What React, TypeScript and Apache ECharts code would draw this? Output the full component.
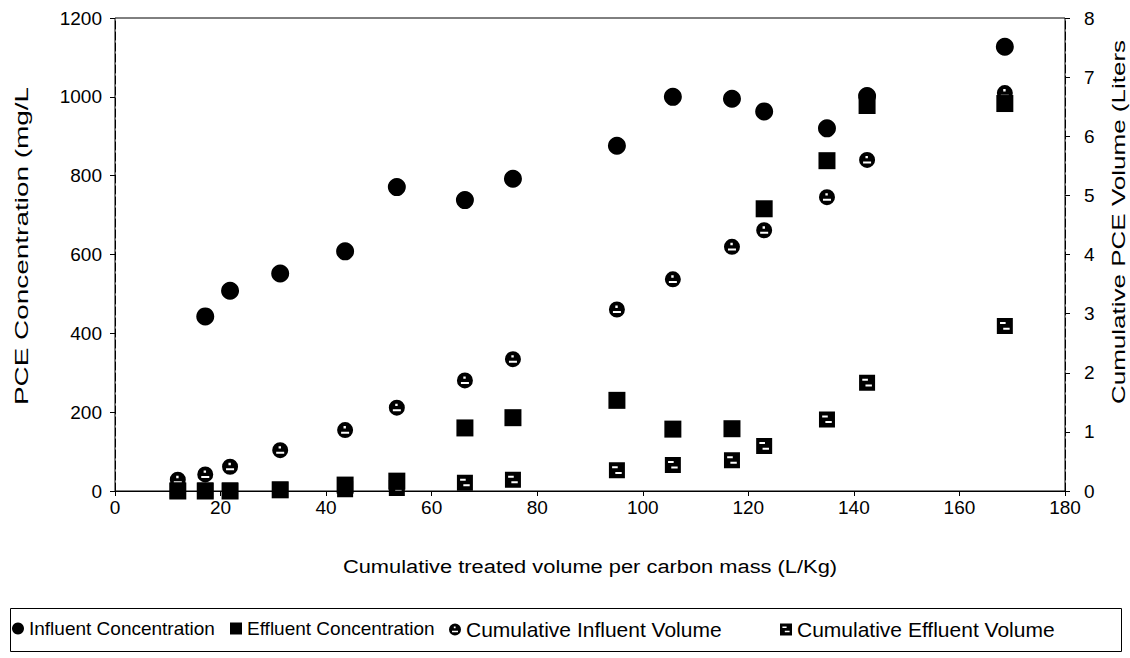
import React, { useEffect, useRef } from "react";
import * as echarts from "echarts";

const xValues = [11.9, 17.1, 21.8, 31.3, 43.6, 53.4, 66.3, 75.4, 95.1, 105.7, 116.9, 123.0, 134.9, 142.5, 168.6];
const influentConc = [null, 443, 508, 552, 608, 771, 738, 792, 876, 1000, 995, 963, 920, 1002, 1127];
const effluentConc = [0, 0, 0, 3, 15, 25, 160, 186, 230, 157, 158, 716, 838, 978, 983];
const cumInfluentVol = [0.19, 0.28, 0.41, 0.69, 1.03, 1.41, 1.87, 2.23, 3.07, 3.58, 4.13, 4.41, 4.97, 5.6, 6.73];
const cumEffluentVol = [0.01, 0.01, 0.01, 0.02, 0.03, 0.05, 0.14, 0.19, 0.35, 0.44, 0.52, 0.76, 1.21, 1.83, 2.79];

const seriesNames = [
  "Influent Concentration",
  "Effluent Concentration",
  "Cumulative Influent Volume",
  "Cumulative Effluent Volume",
];
const legendLefts = [12, 230, 449, 780];
const legendFontSizes = [19, 19, 21, 21];

const xTitle = "Cumulative treated volume per carbon mass (L/Kg)";
const yLeftTitle = "PCE Concentration (mg/L";
const yRightTitle = "Cumulative PCE Volume (Liters";

const FONT = "'Liberation Sans', Arial, sans-serif";
const circleHole =
  "path://M10,0 A10,10 0 1,1 10,20 A10,10 0 1,1 10,0 Z M5,12 L5,14.5 L15,14.5 L15,12 Z M8,5 L8,8 L11,8 L11,5 Z";
const squareHole =
  "path://M0,0 L20,0 L20,20 L0,20 Z M4,5 L4,7.5 L11,7.5 L11,5 Z M8,12 L8,14.5 L16,14.5 L16,12 Z";

const pairs = (ys: (number | null)[]) =>
  xValues.map((x, i) => [x, ys[i]]).filter((p) => p[1] !== null);

export default function App() {
  const ref = useRef<HTMLDivElement>(null);
  useEffect(() => {
    if (!ref.current) return;
    const chart = echarts.init(ref.current, undefined, { renderer: "svg" });
    const axisText = { color: "#000", fontFamily: FONT, fontSize: 19 };
    const titleStyle = (text: string) => ({
      text,
      fill: "#000",
      fontFamily: FONT,
      fontSize: 19,
      align: "center",
      verticalAlign: "middle",
    });
    chart.setOption({
      animation: false,
      backgroundColor: "#fff",
      grid: {
        left: 115,
        right: 65,
        top: 18,
        bottom: 167,
        show: true,
        borderColor: "#000",
        borderWidth: 1,
      },
      legend: seriesNames.map((name, i) => ({
        data: [name],
        left: legendLefts[i],
        top: 619,
        padding: 0,
        itemWidth: 12,
        itemHeight: 12,
        textStyle: { color: "#000", fontFamily: FONT, fontSize: legendFontSizes[i] },
      })),
      graphic: [
        {
          type: "rect",
          shape: { x: 10.5, y: 608.5, width: 1111, height: 43 },
          style: { fill: "none", stroke: "#000", lineWidth: 1 },
          silent: true,
        },
        {
          type: "text",
          x: 590,
          y: 566,
          scaleX: 1.15,
          style: titleStyle(xTitle),
          silent: true,
        },
        {
          type: "text",
          x: 21,
          y: 246,
          rotation: Math.PI / 2,
          scaleX: 1.47,
          style: titleStyle(yLeftTitle),
          silent: true,
        },
        {
          type: "text",
          x: 1118,
          y: 222,
          rotation: Math.PI / 2,
          scaleX: 1.37,
          style: titleStyle(yRightTitle),
          silent: true,
        },
      ],
      xAxis: {
        type: "value",
        min: 0,
        max: 180,
        interval: 20,
        axisLine: { show: true, lineStyle: { color: "#000", width: 1 } },
        axisTick: { show: true, length: 5, lineStyle: { color: "#000" } },
        axisLabel: { ...axisText, margin: 7 },
        splitLine: { show: false },
      },
      yAxis: [
        {
          type: "value",
          min: 0,
          max: 1200,
          interval: 200,
          axisLine: { show: true, lineStyle: { color: "#000", width: 1, type: [8, 3] } },
          axisTick: { show: true, length: 5, lineStyle: { color: "#000" } },
          axisLabel: { ...axisText, margin: 13, formatter: (v: number) => String(v) },
          splitLine: { show: false },
        },
        {
          type: "value",
          min: 0,
          max: 8,
          interval: 1,
          position: "right",
          axisLine: { show: true, lineStyle: { color: "#000", width: 1, type: [8, 3] } },
          axisTick: { show: true, length: 5, lineStyle: { color: "#000" } },
          axisLabel: { ...axisText, margin: 19 },
          splitLine: { show: false },
        },
      ],
      series: [
        {
          name: seriesNames[1],
          type: "scatter",
          yAxisIndex: 0,
          symbol: "rect",
          symbolSize: 17,
          itemStyle: { color: "#000", opacity: 1 },
          data: pairs(effluentConc),
        },
        {
          name: seriesNames[0],
          type: "scatter",
          yAxisIndex: 0,
          symbol: "circle",
          symbolSize: 18,
          itemStyle: { color: "#000", opacity: 1 },
          data: pairs(influentConc),
        },
        {
          name: seriesNames[3],
          type: "scatter",
          yAxisIndex: 1,
          symbol: squareHole,
          symbolSize: 16,
          itemStyle: { color: "#000", opacity: 1 },
          data: pairs(cumEffluentVol),
        },
        {
          name: seriesNames[2],
          type: "scatter",
          yAxisIndex: 1,
          symbol: circleHole,
          symbolSize: 16,
          itemStyle: { color: "#000", opacity: 1 },
          data: pairs(cumInfluentVol),
        },
      ],
    });
    return () => chart.dispose();
  }, []);
  return (
    <div
      ref={ref}
      style={{ position: "fixed", left: 0, top: 0, width: 1130, height: 658, background: "#fff" }}
    />
  );
}
